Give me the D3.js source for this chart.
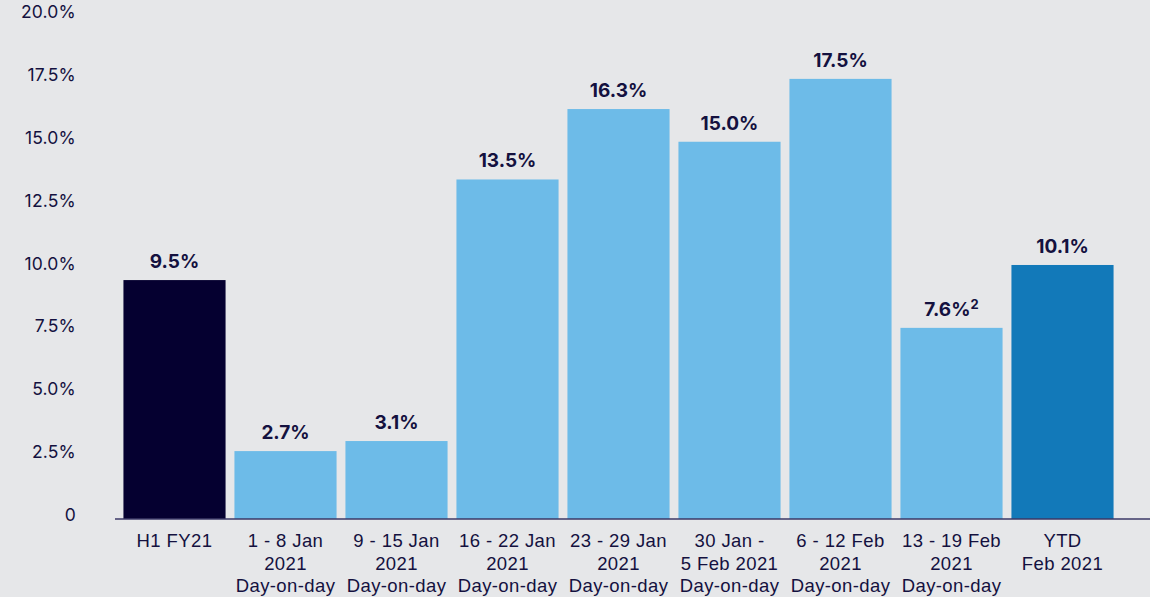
<!DOCTYPE html>
<html>
<head>
<meta charset="utf-8">
<script src="https://cdn.jsdelivr.net/npm/d3@7"></script>
<style>
  html, body { margin: 0; padding: 0; background: #e6e7e9; }
  svg { display: block; font-family: Inter, "Noto Sans", sans-serif; }
</style>
</head>
<body>
<svg id="chart" width="1150" height="597"></svg>
<script>
// Period labels (one entry per bar, lines separated by "\n")
const categories = [
  "H1 FY21",
  "1 - 8 Jan\n2021\nDay-on-day",
  "9 - 15 Jan\n2021\nDay-on-day",
  "16 - 22 Jan\n2021\nDay-on-day",
  "23 - 29 Jan\n2021\nDay-on-day",
  "30 Jan -\n5 Feb 2021\nDay-on-day",
  "6 - 12 Feb\n2021\nDay-on-day",
  "13 - 19 Feb\n2021\nDay-on-day",
  "YTD\nFeb 2021"
];
// Growth, percent
const values = [9.5, 2.7, 3.1, 13.5, 16.3, 15.0, 17.5, 7.6, 10.1];
// Footnote markers attached to value labels
const footnotes = ["", "", "", "", "", "", "", "2", ""];
// Bar kind: summary period, weekly, year-to-date
const kinds = ["half", "week", "week", "week", "week", "week", "week", "week", "ytd"];
const tickValues = [0, 2.5, 5, 7.5, 10, 12.5, 15, 17.5, 20];

const colors = { half: "#050030", week: "#6dbbe8", ytd: "#1279b9" };
const ink = "#14113f";

const svg = d3.select("#chart");

const x = d3.scaleBand()
  .domain(categories)
  .range([119, 1118])
  .paddingInner(0.08)
  .paddingOuter(0.04);

const y = d3.scaleLinear()
  .domain([0, 20])
  .range([519, 16]);

// Y axis labels only (no line, no ticks)
const yAxis = d3.axisLeft(y)
  .tickValues(tickValues)
  .tickSize(0)
  .tickPadding(0)
  .tickFormat(d => d === 0 ? "0" : d3.format(".1f")(d) + "%");

const yg = svg.append("g")
  .attr("transform", "translate(76,-4)")
  .call(yAxis);
yg.select(".domain").remove();
yg.selectAll("text")
  .attr("fill", ink)
  .style("font-size", "17.5px")
  .style("letter-spacing", "0.2px")
  .style("font-family", "Inter, 'Noto Sans', sans-serif");

// Bars
svg.append("g").selectAll("rect")
  .data(values)
  .join("rect")
  .attr("x", (d, i) => x(categories[i]))
  .attr("width", x.bandwidth())
  .attr("y", d => y(d))
  .attr("height", d => y(0) - y(d))
  .attr("fill", (d, i) => colors[kinds[i]]);

// Value labels
const vl = svg.append("g").selectAll("text")
  .data(values)
  .join("text")
  .attr("x", (d, i) => x(categories[i]) + x.bandwidth() / 2)
  .attr("y", d => y(d) - 12)
  .attr("text-anchor", "middle")
  .attr("fill", ink)
  .style("font-size", "19px")
  .style("font-weight", "700");
vl.append("tspan").text(d => d3.format(".1f")(d) + "%");
vl.filter((d, i) => footnotes[i] !== "")
  .append("tspan")
  .attr("dy", -7)
  .style("font-size", "13px")
  .text((d, i) => footnotes[values.indexOf(d)]);

// Baseline
svg.append("line")
  .attr("x1", 115).attr("x2", 1150)
  .attr("y1", y(0)).attr("y2", y(0))
  .attr("stroke", "#3b3966")
  .attr("stroke-width", 1.5);

// X axis category labels
const xAxis = d3.axisBottom(x).tickSize(0).tickPadding(0).tickFormat("");
const xg = svg.append("g")
  .attr("transform", `translate(0,${y(0)})`)
  .call(xAxis);
xg.select(".domain").remove();
xg.selectAll(".tick").each(function(d) {
  const t = d3.select(this).append("text")
    .attr("text-anchor", "middle")
    .attr("fill", ink)
    .style("font-size", "18.5px")
    .style("letter-spacing", "0.4px");
  d.split("\n").forEach((line, k) => {
    t.append("tspan")
      .attr("x", 0)
      .attr("y", 28 + k * 22.5)
      .text(line);
  });
});
</script>
</body>
</html>
